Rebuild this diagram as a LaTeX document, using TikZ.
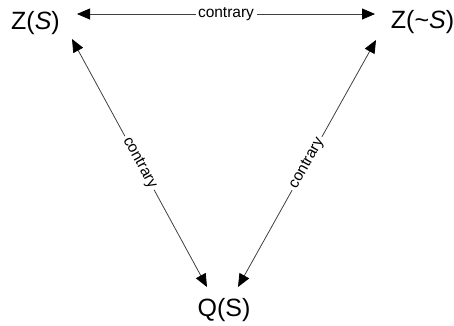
\documentclass[tikz,border=0pt]{standalone}
\usepackage{fontspec}
\setmainfont{Liberation Sans}
\usetikzlibrary{arrows.meta}
\begin{document}
\begin{tikzpicture}[x=1pt,y=-1pt,
  term/.style={inner sep=0pt, anchor=base, font=\fontsize{25}{30}\selectfont},
  rel/.style={draw=black!75, line width=0.8pt,
    {Triangle[length=13pt,width=11pt,color=black]}-{Triangle[length=13pt,width=11pt,color=black]}},
  lbl/.style={fill=white, inner sep=2.5pt, font=\fontsize{15.5}{18}\selectfont, text=black}]
\useasboundingbox (0,0) rectangle (454,325);

% the three terms of the square
\node[term] (zs)  at (35.5,29)  {Z(\textit{S})};
\node[term] (zns) at (422.5,28.5) {Z(\textasciitilde\textit{S})};
\node[term] (qs)  at (224,316.5) {Q(S)};

% arrow end points around the terms
\coordinate (zsE)   at (77,14);
\coordinate (znsW)  at (375,14);
\coordinate (zsS)   at (72,39);
\coordinate (znsS)  at (376,40);
\coordinate (qsNW)  at (207,287);
\coordinate (qsNE)  at (238,287);

% contrary relations
\draw[rel] (zsE) -- node[lbl] {contrary} (znsW);
\draw[rel] (zsS) -- node[lbl, sloped] {contrary} (qsNW);
\draw[rel] (znsS) -- node[lbl, sloped] {contrary} (qsNE);
\end{tikzpicture}
\end{document}
